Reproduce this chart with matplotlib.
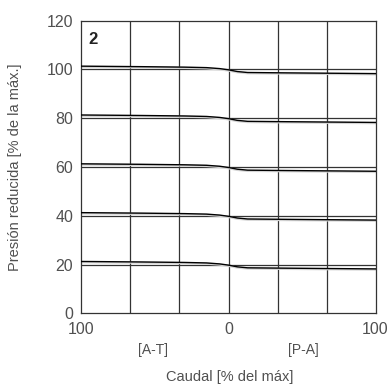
import numpy as np
import matplotlib.pyplot as plt

plt.rcParams['font.family'] = ['Liberation Sans', 'DejaVu Sans']

# presión nominal de cada curva [% de la máx.]
niveles = [100, 80, 60, 40, 20]
# caudal: negativo = A-T, positivo = P-A
caudal = [-100, -60, -30, -15, -6, 0, 6, 13, 40, 70, 100]
# caída de presión respecto al nivel nominal
desvio = [1.3, 1.1, 0.9, 0.7, 0.3, -0.2, -0.9, -1.3, -1.45, -1.6, -1.75]

gris = '#505050'

fig = plt.figure(figsize=(3.91, 3.87), dpi=100)
ax = fig.add_axes([0.2084, 0.19, 0.752, 0.757])

# rejilla
for xv in np.linspace(-100, 100, 7)[1:-1]:
    ax.axvline(xv, color='#333333', lw=0.9, zorder=1)
for yv in niveles:
    ax.axhline(yv, color='#333333', lw=0.9, zorder=1)

for n in niveles:
    y = [n + d for d in desvio]
    ax.plot(caudal, [v - 0.3 for v in y], color='#d5d5d5', lw=1.6, zorder=2)
    ax.plot(caudal, y, color='black', lw=1.0, zorder=3)

ax.set_xlim(-100, 100)
ax.set_ylim(0, 120)
ax.set_xticks([-100, 0, 100])
ax.set_xticklabels(['100', '0', '100'])
ax.set_yticks(range(0, 121, 20))
ax.tick_params(length=0, labelsize=11.5, labelcolor=gris, pad=6)
for s in ax.spines.values():
    s.set_color('#333333')
    s.set_linewidth(0.9)

ax.text(0.025, 0.935, '2', transform=ax.transAxes, fontsize=12,
        fontweight='bold', ha='left', va='center', color='#222222')

fig.text(153 / 391, 1 - 350 / 387, '[A-T]', fontsize=10, color=gris,
         ha='center', va='center')
fig.text(303 / 391, 1 - 350 / 387, '[P-A]', fontsize=10, color=gris,
         ha='center', va='center')
fig.text(230 / 391, 1 - 377 / 387, 'Caudal [% del máx]', fontsize=10.5,
         color=gris, ha='center', va='center')
fig.text(15 / 391, 1 - 167 / 387, 'Presión reducida [% de la máx.]',
         fontsize=10.5, color=gris, ha='center', va='center', rotation=90)

fig.savefig('out.png', dpi=100)
